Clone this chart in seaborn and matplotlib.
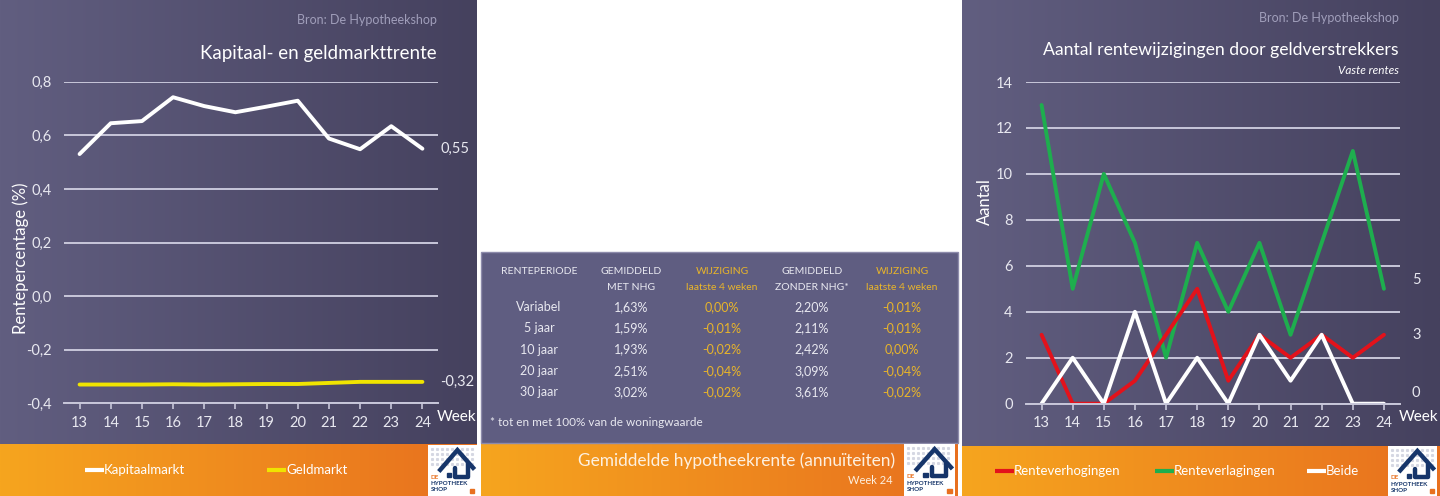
import numpy as np
import matplotlib
matplotlib.use("Agg")
import matplotlib.pyplot as plt
from matplotlib.colors import LinearSegmentedColormap
from matplotlib.patches import Rectangle, Polygon
from matplotlib.ticker import FuncFormatter
import seaborn as sns

# data
weeks = [13, 14, 15, 16, 17, 18, 19, 20, 21, 22, 23, 24]
kapitaalmarkt = [0.53, 0.645, 0.653, 0.742, 0.709, 0.686, 0.707, 0.729, 0.588, 0.548, 0.634, 0.55]
geldmarkt = [-0.33, -0.33, -0.33, -0.329, -0.33, -0.329, -0.328, -0.328, -0.324, -0.32, -0.32, -0.32]

renteverhogingen = [3, 0, 0, 1, 3, 5, 1, 3, 2, 3, 2, 3]
renteverlagingen = [13, 5, 10, 7, 2, 7, 4, 7, 3, 7, 11, 5]
beide = [0, 2, 0, 4, 0, 2, 0, 3, 1, 3, 0, 0]

periodes = ["Variabel", "5 jaar", "10 jaar", "20 jaar", "30 jaar"]
met_nhg = [1.63, 1.59, 1.93, 2.51, 3.02]
wijz_met = [0.00, -0.01, -0.02, -0.04, -0.02]
zonder_nhg = [2.20, 2.11, 2.42, 3.09, 3.61]
wijz_zonder = [-0.01, -0.01, 0.00, -0.04, -0.02]
koppen = [("RENTEPERIODE", ""), ("GEMIDDELD", "MET NHG"), ("WIJZIGING", "laatste 4 weken"),
          ("GEMIDDELD", "ZONDER NHG*"), ("WIJZIGING", "laatste 4 weken")]

sns.set_style("white")
plt.rcParams["font.family"] = ["Lato", "DejaVu Sans"]

W, H = 1440, 496
fig = plt.figure(figsize=(W / 100, H / 100), dpi=100)
fig.patch.set_facecolor("white")

PURPLE = ("#615e80", "#45415e")
ORANGE = ("#f6a51e", "#e8701f")
GRID = "#c8c7da"
TXT = "#e8e8f0"
YELLOW_TXT = "#e9b52a"


def px_axes(x0, y0, x1, y1):
    return fig.add_axes([x0 / W, 1 - y1 / H, (x1 - x0) / W, (y1 - y0) / H])


def fmt(v, dec):
    return f"{v:.{dec}f}".replace(".", ",")


# background layer in pixel coords
bg = px_axes(0, 0, W, H)
grad = np.linspace(0, 1, 256)[None, :]


def gradient(x0, x1, y0, y1, cols):
    cmap = LinearSegmentedColormap.from_list("g", list(cols))
    bg.imshow(grad, cmap=cmap, extent=(x0, x1, y1, y0), aspect="auto", zorder=1)


gradient(0, 477, 0, 444, PURPLE)
gradient(0, 477, 444, H, ORANGE)
gradient(962, W, 0, 446, PURPLE)
gradient(962, W, 446, H, ORANGE)
bg.add_patch(Rectangle((481, 252), 477, 191, facecolor="#5f5d81", edgecolor="#8d8bab", lw=1, zorder=2))
gradient(481, 958, 443, H, ORANGE)
bg.set_xlim(0, W)
bg.set_ylim(H, 0)
bg.axis("off")


def style_chart(ax, ypad):
    ax.set_facecolor("none")
    for s in ["top", "right", "left"]:
        ax.spines[s].set_visible(False)
    ax.spines["bottom"].set_color(GRID)
    ax.spines["bottom"].set_linewidth(1.4)
    ax.yaxis.grid(True, color=GRID, lw=1.4)
    ax.xaxis.grid(False)
    ax.set_xlim(12.5, 24.5)
    ax.set_xticks(weeks)
    ax.tick_params(axis="x", colors=GRID, labelcolor=TXT, labelsize=10.5, length=4, width=1.2,
                   direction="out", bottom=True, pad=5)
    ax.tick_params(axis="y", labelcolor=TXT, labelsize=10.5, length=0, pad=ypad)
    ax.set_xlabel("")
    ax.set_ylabel("")


# left chart
ax1 = px_axes(64, 81.7, 438, 403.3)
sns.lineplot(x=weeks, y=kapitaalmarkt, ax=ax1, color="white", lw=2.8)
sns.lineplot(x=weeks, y=geldmarkt, ax=ax1, color="#f0e400", lw=2.8)
style_chart(ax1, 8.5)
ax1.set_ylim(-0.4, 0.8)
ax1.set_yticks(np.arange(-0.4, 0.81, 0.2))
ax1.yaxis.set_major_formatter(FuncFormatter(lambda v, p: fmt(v, 1)))
ax1.annotate(fmt(kapitaalmarkt[-1], 2), (weeks[-1], kapitaalmarkt[-1]), xytext=(13, 0),
             textcoords="offset points", color=TXT, fontsize=10.5, va="center")
ax1.annotate(fmt(geldmarkt[-1], 2), (weeks[-1], geldmarkt[-1]), xytext=(13, 0),
             textcoords="offset points", color=TXT, fontsize=10.5, va="center")

# right chart
ax2 = px_axes(1026, 82, 1399.5, 403.7)
sns.lineplot(x=weeks, y=renteverlagingen, ax=ax2, color="#1eae4e", lw=2.8)
sns.lineplot(x=weeks, y=renteverhogingen, ax=ax2, color="#e3121b", lw=2.8)
sns.lineplot(x=weeks, y=beide, ax=ax2, color="white", lw=2.8)
style_chart(ax2, 9.5)
ax2.set_ylim(0, 14)
ax2.set_yticks(range(0, 15, 2))
for serie, dy in [(renteverlagingen, 6), (renteverhogingen, 0), (beide, 8)]:
    ax2.annotate(str(serie[-1]), (24.5, serie[-1]), xytext=(9, dy), textcoords="offset points",
                 color=TXT, fontsize=10.5, va="center")

# foreground layer for text and logos
fg = px_axes(0, 0, W, H)
fg.set_facecolor("none")


def logo(x0, y0, w, h):
    fg.add_patch(Rectangle((x0, y0), w, h, facecolor="white", edgecolor="none", zorder=5))
    for i in range(9):
        for j in range(4):
            fg.plot(x0 + 4 + i * 5, y0 + 4 + j * 5, "s", ms=1.2, color="#d5d7e2", zorder=6)
    navy = "#16356a"
    fg.add_patch(Polygon([(x0 + 0.22 * w, y0 + 0.52 * h), (x0 + 0.6 * w, y0 + 0.1 * h),
                          (x0 + 0.95 * w, y0 + 0.48 * h)], closed=False, fill=False,
                         edgecolor=navy, lw=3.2, zorder=7))
    fg.plot([x0 + 0.82 * w, x0 + 0.82 * w, x0 + 0.55 * w, x0 + 0.55 * w],
            [y0 + 0.36 * h, y0 + 0.62 * h, y0 + 0.62 * h, y0 + 0.45 * h], color=navy, lw=3.2, zorder=7)
    fg.add_patch(Rectangle((x0 + 0.38 * w, y0 + 0.55 * h), 0.09 * w, 0.08 * h, color=navy, zorder=7))
    fg.text(x0 + 0.05 * w, y0 + 0.63 * h, "DE", color="#e8701f", fontsize=4.5, fontweight="bold", va="center", zorder=8)
    fg.text(x0 + 0.05 * w, y0 + 0.76 * h, "HYPOTHEEK", color=navy, fontsize=4.5, fontweight="bold", va="center", zorder=8)
    fg.text(x0 + 0.05 * w, y0 + 0.88 * h, "SHOP", color=navy, fontsize=4.5, fontweight="bold", va="center", zorder=8)
    fg.add_patch(Rectangle((x0 + 0.85 * w, y0 + 0.86 * h), 0.09 * w, 0.08 * h, color="#e8701f", zorder=8))


def legend_item(x, y, color, label):
    fg.plot([x, x + 19], [y, y], color=color, lw=3, solid_capstyle="butt", zorder=5)
    fg.text(x + 19, y, label, color="white", fontsize=9.5, va="center", zorder=5)


# left panel texts
fg.text(437, 20, "Bron: De Hypotheekshop", color="#a09eba", fontsize=9, ha="right", va="center")
fg.text(437, 53, "Kapitaal- en geldmarkttrente", color="white", fontsize=13.5, ha="right", va="center")
fg.text(21, 258, "Rentepercentage (%)", color="white", fontsize=12, rotation=90, ha="center", va="center")
fg.text(437, 417, "Week", color="white", fontsize=11, va="center")
legend_item(85, 470, "white", "Kapitaalmarkt")
legend_item(267, 470, "#f0e400", "Geldmarkt")
logo(428, 445, 49, 51)

# middle panel: table
col_x = [539, 631, 722, 812, 902]
for k, (l1, l2) in enumerate(koppen):
    c = YELLOW_TXT if k in (2, 4) else TXT
    fg.text(col_x[k], 271.5, l1, color=c, fontsize=7.5, ha="center", va="center")
    if l2:
        fg.text(col_x[k], 288, l2, color=c, fontsize=7.5, ha="center", va="center")
for i, p in enumerate(periodes):
    y = 307 + i * 21.3
    fg.text(col_x[0], y, p, color=TXT, fontsize=9, ha="center", va="center")
    fg.text(col_x[1], y, fmt(met_nhg[i], 2) + "%", color=TXT, fontsize=9, ha="center", va="center")
    fg.text(col_x[2], y, fmt(wijz_met[i], 2) + "%", color=YELLOW_TXT, fontsize=9, ha="center", va="center")
    fg.text(col_x[3], y, fmt(zonder_nhg[i], 2) + "%", color=TXT, fontsize=9, ha="center", va="center")
    fg.text(col_x[4], y, fmt(wijz_zonder[i], 2) + "%", color=YELLOW_TXT, fontsize=9, ha="center", va="center")
fg.text(490, 423, "* tot en met 100% van de woningwaarde", color=TXT, fontsize=8.5, va="center")
fg.text(895, 461, "Gemiddelde hypotheekrente (annuïteiten)", color="#fdf0e0", fontsize=12.4, ha="right", va="center")
fg.text(893, 480, "Week 24", color="#fdf0e0", fontsize=8, ha="right", va="center")
logo(904, 444, 51, 52)

# right panel texts
fg.text(1399, 18, "Bron: De Hypotheekshop", color="#a09eba", fontsize=9, ha="right", va="center")
fg.text(1399, 50, "Aantal rentewijzigingen door geldverstrekkers", color="white", fontsize=12.7, ha="right", va="center")
fg.text(1399, 70, "Vaste rentes", color="white", fontsize=8.5, style="italic", ha="right", va="center")
fg.text(985, 202, "Aantal", color="white", fontsize=12, rotation=90, ha="center", va="center")
fg.text(1399, 417, "Week", color="white", fontsize=11, va="center")
legend_item(995, 471, "#e3121b", "Renteverhogingen")
legend_item(1155, 471, "#1eae4e", "Renteverlagingen")
legend_item(1307, 471, "white", "Beide")
logo(1388, 446, 49, 50)

fg.set_xlim(0, W)
fg.set_ylim(H, 0)
fg.axis("off")

fig.savefig("out.png", dpi=100)
